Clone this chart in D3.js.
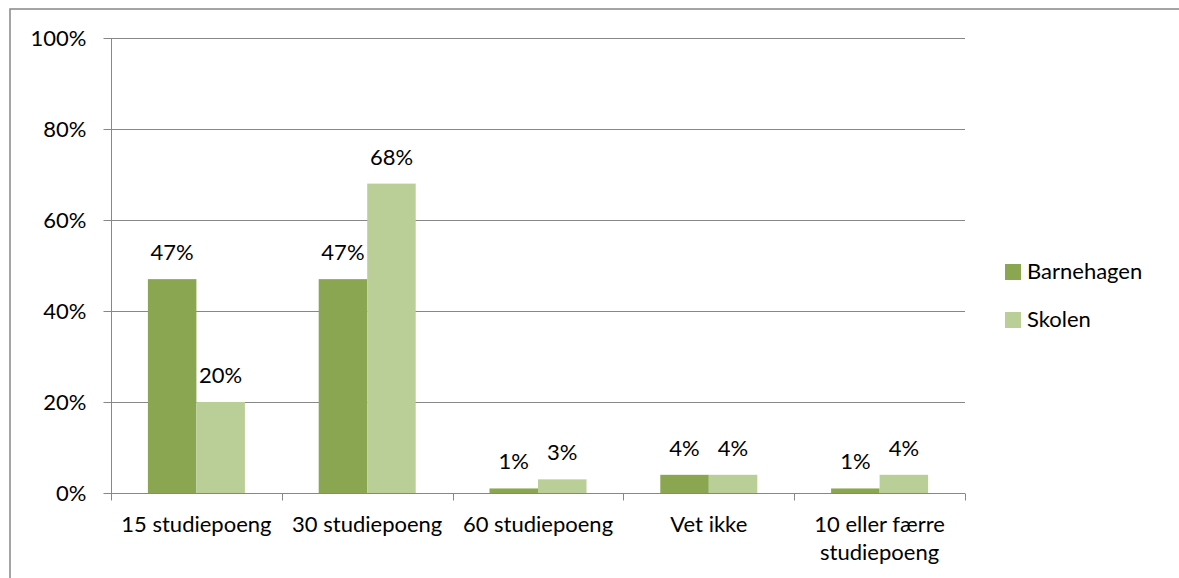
<!DOCTYPE html>
<html>
<head>
<meta charset="utf-8">
<script src="https://cdn.jsdelivr.net/npm/d3@7"></script>
<style>
  html, body { margin: 0; padding: 0; background: #fff; }
  svg { display: block; font-family: Lato, "Open Sans", sans-serif; }
</style>
</head>
<body>
<svg id="chart" width="1179" height="578"></svg>
<script>
// Categories (line breaks marked with \n), series and tick values
const categories = ["15 studiepoeng", "30 studiepoeng", "60 studiepoeng", "Vet ikke", "10 eller færre\nstudiepoeng"];
const seriesNames = ["Barnehagen", "Skolen"];
const barnehagen = [47, 47, 1, 4, 1];
const skolen = [20, 68, 3, 4, 4];
const yTicks = [0, 20, 40, 60, 80, 100];

const colors = ["#8ba650", "#bacf98"];
const series = [barnehagen, skolen];

const svg = d3.select("#chart");
const W = 1179, H = 578;
const plot = { left: 111, right: 965, top: 38, bottom: 493 };
const fontSize = 22;

// Outer frame
svg.append("rect")
  .attr("x", 10).attr("y", 9)
  .attr("width", W + 20).attr("height", H + 20)
  .attr("fill", "none").attr("stroke", "#878787").attr("stroke-width", 1.5);

const x = d3.scaleBand().domain(categories).range([plot.left, plot.right]).padding(0);
const y = d3.scaleLinear().domain([0, 100]).range([plot.bottom, plot.top]);

// Horizontal gridlines
svg.append("g").selectAll("line").data(yTicks.filter(d => d > 0)).join("line")
  .attr("x1", plot.left).attr("x2", plot.right)
  .attr("y1", d => Math.round(y(d)) + 0.5).attr("y2", d => Math.round(y(d)) + 0.5)
  .attr("stroke", "#878787").attr("stroke-width", 1);

// Y axis
const yAxis = svg.append("g")
  .attr("transform", `translate(${plot.left + 0.5},0)`)
  .call(d3.axisLeft(y).tickValues(yTicks).tickFormat(d => d + "%").tickSize(8).tickPadding(17));
yAxis.select(".domain").attr("stroke", "#878787").attr("d", `M0,${plot.top}V${plot.bottom}`);
yAxis.selectAll(".tick line").attr("stroke", "#878787");
yAxis.selectAll(".tick").attr("transform", d => `translate(0,${Math.round(y(d)) + 0.5})`);
yAxis.selectAll("text").attr("font-size", fontSize).attr("font-family", "Lato").attr("fill", "#000").attr("dy", "0.35em");

// Bars
const barW = x.bandwidth() * 0.284;
const groups = svg.append("g").selectAll("g").data(categories).join("g");
series.forEach((vals, si) => {
  groups.append("rect")
    .attr("x", (d, i) => x(d) + x.bandwidth() / 2 + (si - 1) * barW)
    .attr("y", (d, i) => y(vals[i]))
    .attr("width", barW)
    .attr("height", (d, i) => y(0) - y(vals[i]))
    .attr("fill", colors[si]);
  groups.append("text")
    .attr("x", (d, i) => x(d) + x.bandwidth() / 2 + (si - 0.5) * barW)
    .attr("y", (d, i) => y(vals[i]) - 19)
    .attr("text-anchor", "middle")
    .attr("font-size", fontSize)
    .attr("fill", "#000")
    .text((d, i) => vals[i] + "%");
});

// X axis
const xAxisY = plot.bottom + 0.5;
svg.append("line")
  .attr("x1", plot.left).attr("x2", plot.right)
  .attr("y1", xAxisY).attr("y2", xAxisY)
  .attr("stroke", "#878787");
const boundaries = categories.map(c => x(c)).concat([plot.right]);
svg.append("g").selectAll("line").data(boundaries).join("line")
  .attr("x1", d => Math.round(d) + 0.5).attr("x2", d => Math.round(d) + 0.5)
  .attr("y1", xAxisY).attr("y2", xAxisY + 7)
  .attr("stroke", "#878787");
svg.append("g").selectAll("text").data(categories).join("text")
  .attr("x", d => x(d) + x.bandwidth() / 2)
  .attr("y", 532)
  .attr("text-anchor", "middle")
  .attr("font-size", fontSize)
  .attr("fill", "#000")
  .each(function (d) {
    const t = d3.select(this);
    d.split("\n").forEach((line, i) => {
      t.append("tspan").attr("x", x(d) + x.bandwidth() / 2).attr("dy", i === 0 ? 0 : 28).text(line);
    });
  });

// Legend
const legend = svg.append("g").selectAll("g").data(seriesNames).join("g")
  .attr("transform", (d, i) => `translate(1005,${264 + i * 48})`);
legend.append("rect").attr("width", 16).attr("height", 16).attr("fill", (d, i) => colors[i]);
legend.append("text").attr("x", 22).attr("y", 15)
  .attr("font-size", fontSize).attr("fill", "#000").text(d => d);
</script>
</body>
</html>
